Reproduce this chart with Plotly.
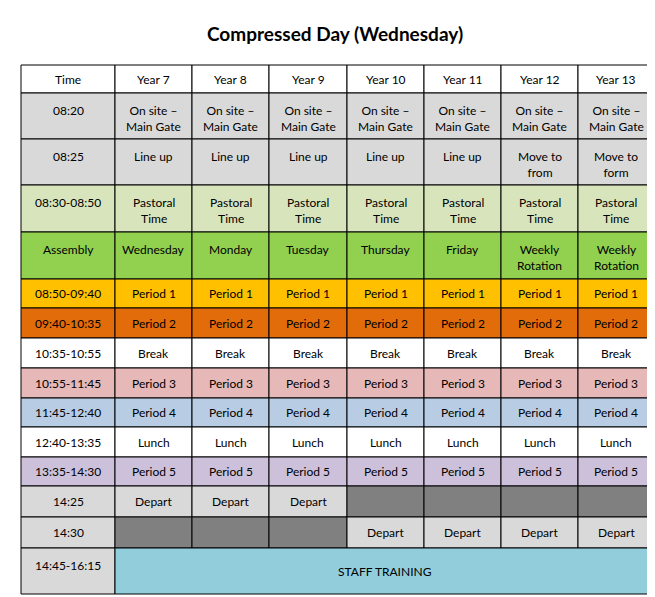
import plotly.graph_objects as go

title = "Compressed Day (Wednesday)"
headers = ["Time", "Year 7", "Year 8", "Year 9", "Year 10", "Year 11", "Year 12", "Year 13"]
times = ["08:20", "08:25", "08:30-08:50", "Assembly", "08:50-09:40", "09:40-10:35", "10:35-10:55",
         "10:55-11:45", "11:45-12:40", "12:40-13:35", "13:35-14:30", "14:25", "14:30", "14:45-16:15"]
cells = [
    ["On site –<br>Main Gate"] * 7,
    ["Line up"] * 5 + ["Move to<br>from", "Move to<br>form"],
    ["Pastoral<br>Time"] * 7,
    ["Wednesday", "Monday", "Tuesday", "Thursday", "Friday", "Weekly<br>Rotation", "Weekly<br>Rotation"],
    ["Period 1"] * 7,
    ["Period 2"] * 7,
    ["Break"] * 7,
    ["Period 3"] * 7,
    ["Period 4"] * 7,
    ["Lunch"] * 7,
    ["Period 5"] * 7,
    ["Depart"] * 3 + [""] * 4,
    [""] * 3 + ["Depart"] * 4,
    ["STAFF TRAINING"],
]
row_colors = ["#d9d9d9", "#d9d9d9", "#d8e4bc", "#92d050", "#ffc000", "#e26b0a", "#ffffff",
              "#e6b8b7", "#b8cce4", "#ffffff", "#ccc0da", "#d9d9d9", "#d9d9d9", "#d9d9d9"]
time_colors = ["#d9d9d9", "#d9d9d9", "#d8e4bc", "#92d050", "#ffc000", "#e26b0a", "#ffffff",
               "#e6b8b7", "#b8cce4", "#ffffff", "#ccc0da", "#d9d9d9", "#d9d9d9", "#d9d9d9"]
dark = "#808080"
staff = "#92cddc"

xb = [13, 107, 184, 261, 339, 416, 493, 570, 646]
yb = [57, 85, 131, 177, 224, 271, 300, 330, 360, 390, 419, 449, 478, 509, 540, 586]
tall = {0, 1, 2, 3, 13}

shapes, ann = [], []
def cell(x0, x1, y0, y1, color, text, top):
    shapes.append(dict(type="rect", xref="x", yref="y", x0=x0, x1=x1, y0=y0, y1=y1,
                       fillcolor=color, line=dict(color="black", width=1), layer="below"))
    if text:
        if top:
            ann.append(dict(x=(x0 + x1) / 2, y=y0 + 8, text=text, showarrow=False,
                            yanchor="top", xanchor="center", font=dict(size=12)))
        else:
            ann.append(dict(x=(x0 + x1) / 2, y=(y0 + y1) / 2, text=text, showarrow=False,
                            yanchor="middle", xanchor="center", font=dict(size=12)))

for c, h in enumerate(headers):
    cell(xb[c], xb[c + 1], yb[0], yb[1], "#ffffff", h, False)
for r, t in enumerate(times):
    y0, y1 = yb[r + 1], yb[r + 2]
    top = r in tall
    cell(xb[0], xb[1], y0, y1, time_colors[r], t, top)
    if r == 13:
        cell(xb[1], xb[8], y0, y1, staff, cells[r][0], False)
        continue
    for c, txt in enumerate(cells[r]):
        col = row_colors[r] if txt else dark
        cell(xb[c + 1], xb[c + 2], y0, y1, col, txt, top)

ann.append(dict(x=327, y=25, text="<b>" + title + "</b>", showarrow=False,
                font=dict(size=19), xanchor="center", yanchor="middle"))

fig = go.Figure(go.Scatter(x=[0], y=[0], mode="markers", marker=dict(opacity=0), hoverinfo="skip"))
fig.update_layout(width=655, height=597, margin=dict(l=0, r=0, t=0, b=0),
                  plot_bgcolor="white", paper_bgcolor="white", shapes=shapes, annotations=ann,
                  font=dict(family="Lato, Open Sans, sans-serif", color="black"), showlegend=False,
                  xaxis=dict(range=[0, 655], visible=False, fixedrange=True),
                  yaxis=dict(range=[597, 0], visible=False, fixedrange=True))
fig.write_html("out.html")
